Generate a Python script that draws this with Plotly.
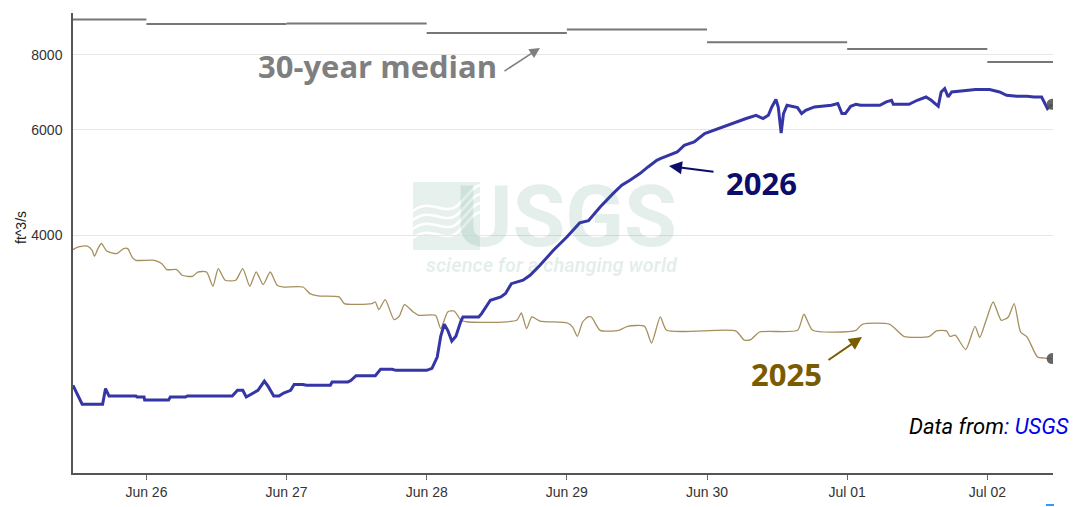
import datetime as dt
import plotly.graph_objects as go

# ---------------- data ----------------
BASE = dt.datetime(2026, 6, 25)

hours_2026 = [11.43, 13.0, 16.5, 17.0, 17.6, 22.2, 22.4, 23.6, 23.7, 27.8, 28.1, 30.7, 31.0, 38.7,
              39.6, 40.5, 41.1, 42.2, 43.1, 44.2, 44.9, 45.8, 46.7, 47.5, 48.7, 49.3, 50.8, 51.4,
              55.5, 55.8, 58.5, 59.0, 59.9, 63.2, 64.1, 66.1, 66.7, 72.0, 72.9, 73.8, 74.4, 75.0,
              75.6, 76.3, 77.0, 77.8, 78.2, 80.9, 81.4, 82.9, 84.7, 85.5, 86.5, 88.5, 89.7, 91.4,
              93.7, 96.0, 98.2, 99.7, 101.7, 103.9, 105.4, 106.8, 108.5, 109.9, 111.4, 112.0,
              113.7, 114.9, 116.1, 117.8, 119.6, 121.9, 123.7, 124.9, 126.7, 128.4, 129.6, 130.5,
              131.1, 131.8, 132.2, 132.7, 133.1, 133.7, 135.5, 136.2, 136.9, 138.4, 140.2, 141.3,
              142.4, 143.1, 143.7, 144.6, 145.5, 146.3, 149.6, 150.7, 151.6, 151.9, 154.6, 156.0,
              157.5, 158.4, 159.6, 160.1, 160.7, 161.3, 161.9, 163.7, 166.0, 168.4, 170.1, 171.3,
              173.1, 174.8, 176.0, 177.3, 177.8, 178.3, 179.1]
flow_2026 = [2252, 2094, 2094, 2224, 2161, 2161, 2153, 2153, 2129, 2129, 2153, 2153, 2161, 2161,
             2209, 2209, 2153, 2181, 2209, 2289, 2238, 2161, 2161, 2186, 2209, 2259, 2259, 2252,
             2252, 2281, 2281, 2294, 2337, 2337, 2394, 2394, 2385, 2385, 2403, 2510, 2718, 2846,
             2781, 2669, 2718, 2871, 2927, 2927, 2965, 3121, 3161, 3202, 3326, 3370, 3435, 3570,
             3781, 3979, 4200, 4236, 4464, 4699, 4852, 4946, 5074, 5205, 5340, 5375,
             5458, 5513, 5656, 5728, 5916, 6031, 6108, 6186, 6268, 6347, 6268, 6347,
             6553, 6742, 6553, 5930, 6389, 6596, 6538, 6389, 6470, 6553, 6570, 6596,
             6639, 6389, 6389, 6570, 6621, 6596, 6596, 6680, 6723, 6621, 6621, 6723,
             6808, 6723, 6570, 6940, 7031, 6808, 6940, 6966, 7004, 7004, 6940, 6853,
             6827, 6827, 6808, 6808, 6639, 6513, 6621]

hours_2025 = [11.43, 12.4, 13.9, 14.7, 15.1, 15.7, 16.3, 17.2, 18.9, 20.1, 20.8, 21.6, 22.2, 25.4,
              26.6, 27.5, 29.2, 30.1, 31.9, 32.8, 34.3, 35.4, 36.3, 37.5, 39.3, 40.5, 41.7, 42.8,
              44.0, 45.2, 46.4, 47.3, 50.8, 52.0, 53.4, 57.0, 57.9, 62.6, 63.2, 63.8, 64.9, 66.4,
              67.3, 68.2, 69.7, 70.6, 73.5, 74.4, 75.6, 76.7, 77.9, 79.1, 87.4, 88.2, 89.1, 90.0,
              91.4, 96.1, 97.0, 97.8, 98.7, 99.6, 100.2, 101.7, 104.9, 106.4, 109.3, 110.5, 112.0,
              113.1, 124.9, 126.4, 127.5, 129.0, 135.5, 136.6, 138.1, 145.5, 146.6, 151.3, 153.7,
              158.1, 159.3, 161.0, 161.6, 162.5, 164.3, 165.9, 166.7, 167.8, 169.0, 170.4, 171.6,
              172.6, 173.7, 174.8, 176.6, 177.8, 179.1]
flow_2025 = [3791, 3829, 3843, 3781, 3694, 3805, 3880, 3771, 3733, 3805, 3805, 3676, 3638, 3638,
             3593, 3511, 3511, 3435, 3421, 3478, 3478, 3293, 3525, 3370, 3370, 3525, 3293, 3478,
             3315, 3478, 3306, 3284, 3284, 3202, 3173, 3161, 3081, 3081, 3100, 3011, 3129, 2898,
             2935, 3069, 2984, 2946, 2946, 2799, 2984, 2995, 2890, 2871, 2890, 2972, 2799, 2927,
             2882, 2860, 2816, 2718, 2871, 2927, 2927, 2781, 2781, 2824, 2824, 2649, 2927,
             2781, 2775, 2677, 2683, 2763, 2781, 2958, 2781, 2781, 2846, 2846, 2718,
             2718, 2775, 2775, 2718, 2729, 2583, 2824, 2705, 2890, 3100, 2890, 2927,
             3081, 2763, 2711, 2510, 2500, 2495]

median_days = ["2026-06-25", "2026-06-26", "2026-06-27", "2026-06-28",
               "2026-06-29", "2026-06-30", "2026-07-01", "2026-07-02"]
median_flow = [9163, 9010, 9030, 8705, 8820, 8401, 8187, 7787]

y_ticks = [4000, 6000, 8000]

# ---------------- layout helpers ----------------
X_START_H, X_END_H = 11.43, 179.25
x_start = BASE + dt.timedelta(hours=X_START_H)
x_end = BASE + dt.timedelta(hours=X_END_H)
Y_RANGE = [3.2064, 3.9730]

OFF = 8                      # default page body margin
W, H = 1078 - OFF, 507 - OFF
L, R, T, B = 73, 1053, 13, 473   # plot area in window pixels


def px(x):
    return (x - L) / (R - L)


def py(y):
    return (B - y) / (B - T)


def to_time(hs):
    return [BASE + dt.timedelta(hours=h) for h in hs]


# median segments (one horizontal segment per day)
med_x, med_y = [], []
for d, v in zip(median_days, median_flow):
    d0 = dt.datetime.strptime(d, "%Y-%m-%d")
    d1 = d0 + dt.timedelta(days=1)
    med_x += [max(d0, x_start), min(d1, x_end), None]
    med_y += [v, v, None]

fig = go.Figure()

fig.add_trace(go.Scatter(x=med_x, y=med_y, mode="lines",
                         line=dict(color="#777777", width=2), hoverinfo="skip",
                         showlegend=False))
fig.add_trace(go.Scatter(x=to_time(hours_2025), y=flow_2025, mode="lines",
                         line=dict(color="#a68f5e", width=1.3, shape="spline", smoothing=0.6),
                         showlegend=False))
fig.add_trace(go.Scatter(x=to_time(hours_2026), y=flow_2026, mode="lines",
                         line=dict(color="#3535a6", width=3), showlegend=False))
fig.add_trace(go.Scatter(x=to_time([hours_2026[-1], hours_2025[-1]]),
                         y=[flow_2026[-1], flow_2025[-1]], mode="markers",
                         marker=dict(size=11, color="rgba(85,85,85,0.9)"),
                         showlegend=False))

# ---------------- watermark (USGS) ----------------
wm = "rgba(30,122,88,0.12)"
shapes = [dict(type="rect", xref="paper", yref="paper", x0=px(413), x1=px(480),
               y0=py(250), y1=py(182), fillcolor="#e6f0ec", line=dict(width=0),
               layer="below")]
for k in range(4):
    y0 = 203 + k * 9
    path = "M {},{} C {},{} {},{} {},{} S {},{} {},{}".format(
        px(413), py(y0 + 8), px(430), py(y0 - 6), px(445), py(y0 + 14), px(458), py(y0 + 2),
        px(472), py(y0 - 16), px(480), py(y0 - 18))
    shapes.append(dict(type="path", xref="paper", yref="paper", path=path,
                       line=dict(color="white", width=2.5), layer="below"))
# tiny blue dash at the bottom right
shapes.append(dict(type="line", xref="paper", yref="paper", x0=px(1046), x1=px(1054),
                   y0=py(505), y1=py(505), line=dict(color="#3399ff", width=2)))

wm_text = ("<span style='font-size:86px'><b>USGS</b></span><br>"
           "<b><i>science for a changing world</i></b>")

annotations = [
    dict(text=wm_text, x=px(680), y=py(279), xref="paper", yref="paper",
         showarrow=False, xanchor="right", yanchor="bottom", align="right",
         font=dict(family="Roboto", size=20, color=wm)),
    # labels
    dict(text="<b>30-year median</b>", x=px(377), y=py(66), xref="paper", yref="paper",
         showarrow=False, xanchor="center", yanchor="middle",
         font=dict(family="Open Sans", size=31, color="#7f7f7f")),
    dict(text="", x=px(540), y=py(48), xref="paper", yref="paper", showarrow=True,
         ax=-37, ay=24, arrowhead=2, arrowsize=1.4, arrowwidth=1.5, arrowcolor="#7f7f7f"),
    dict(text="<b>2026</b>", x=px(761), y=py(183), xref="paper", yref="paper",
         showarrow=False, xanchor="center", yanchor="middle",
         font=dict(family="Open Sans", size=31, color="#0c0c6b")),
    dict(text="", x=px(669), y=py(166), xref="paper", yref="paper", showarrow=True,
         ax=46, ay=6, arrowhead=2, arrowsize=1.3, arrowwidth=2, arrowcolor="#0c0c6b"),
    dict(text="<b>2025</b>", x=px(786), y=py(374), xref="paper", yref="paper",
         showarrow=False, xanchor="center", yanchor="middle",
         font=dict(family="Open Sans", size=31, color="#7a5c00")),
    dict(text="", x=px(862), y=py(337), xref="paper", yref="paper", showarrow=True,
         ax=-35, ay=24, arrowhead=2, arrowsize=1.3, arrowwidth=2, arrowcolor="#7a5c00"),
    dict(text="<i>Data from<span style='color:#0000ee'>: USGS</span></i>",
         x=px(1071), y=py(426), xref="paper", yref="paper", showarrow=False,
         xanchor="right", yanchor="middle",
         font=dict(family="Roboto", size=22, color="#000000")),
    dict(text="ft^3/s", x=px(21), y=py(228), xref="paper", yref="paper", showarrow=False,
         textangle=-90, xanchor="center", yanchor="middle",
         font=dict(family="Liberation Sans", size=14, color="#222222")),
]

fig.update_layout(
    width=W, height=H,
    margin=dict(l=L - OFF, r=OFF + W - R, t=T - OFF, b=OFF + H - B, pad=0),
    plot_bgcolor="white", paper_bgcolor="white",
    shapes=shapes, annotations=annotations,
    showlegend=False,
    font=dict(family="Liberation Sans", size=14, color="#333333"),
)
fig.update_xaxes(
    type="date", range=[x_start, x_end], tick0="2026-06-26", dtick=86400000,
    tickformat="%b %d", ticks="outside", ticklen=5, tickcolor="#666666",
    showgrid=False, showline=True, linecolor="#555555", linewidth=1.5,
    tickfont=dict(family="Liberation Sans", size=14, color="#333333"), zeroline=False,
)
fig.update_yaxes(
    type="log", range=Y_RANGE, tickvals=y_ticks, ticktext=[str(v) for v in y_ticks],
    ticks="", showgrid=True, gridcolor="#e6e6e6", gridwidth=1,
    showline=True, linecolor="#555555", linewidth=1.5, ticklabelstandoff=6,
    tickfont=dict(family="Liberation Sans", size=14, color="#333333"), zeroline=False,
)

fig.write_html("out.html")
